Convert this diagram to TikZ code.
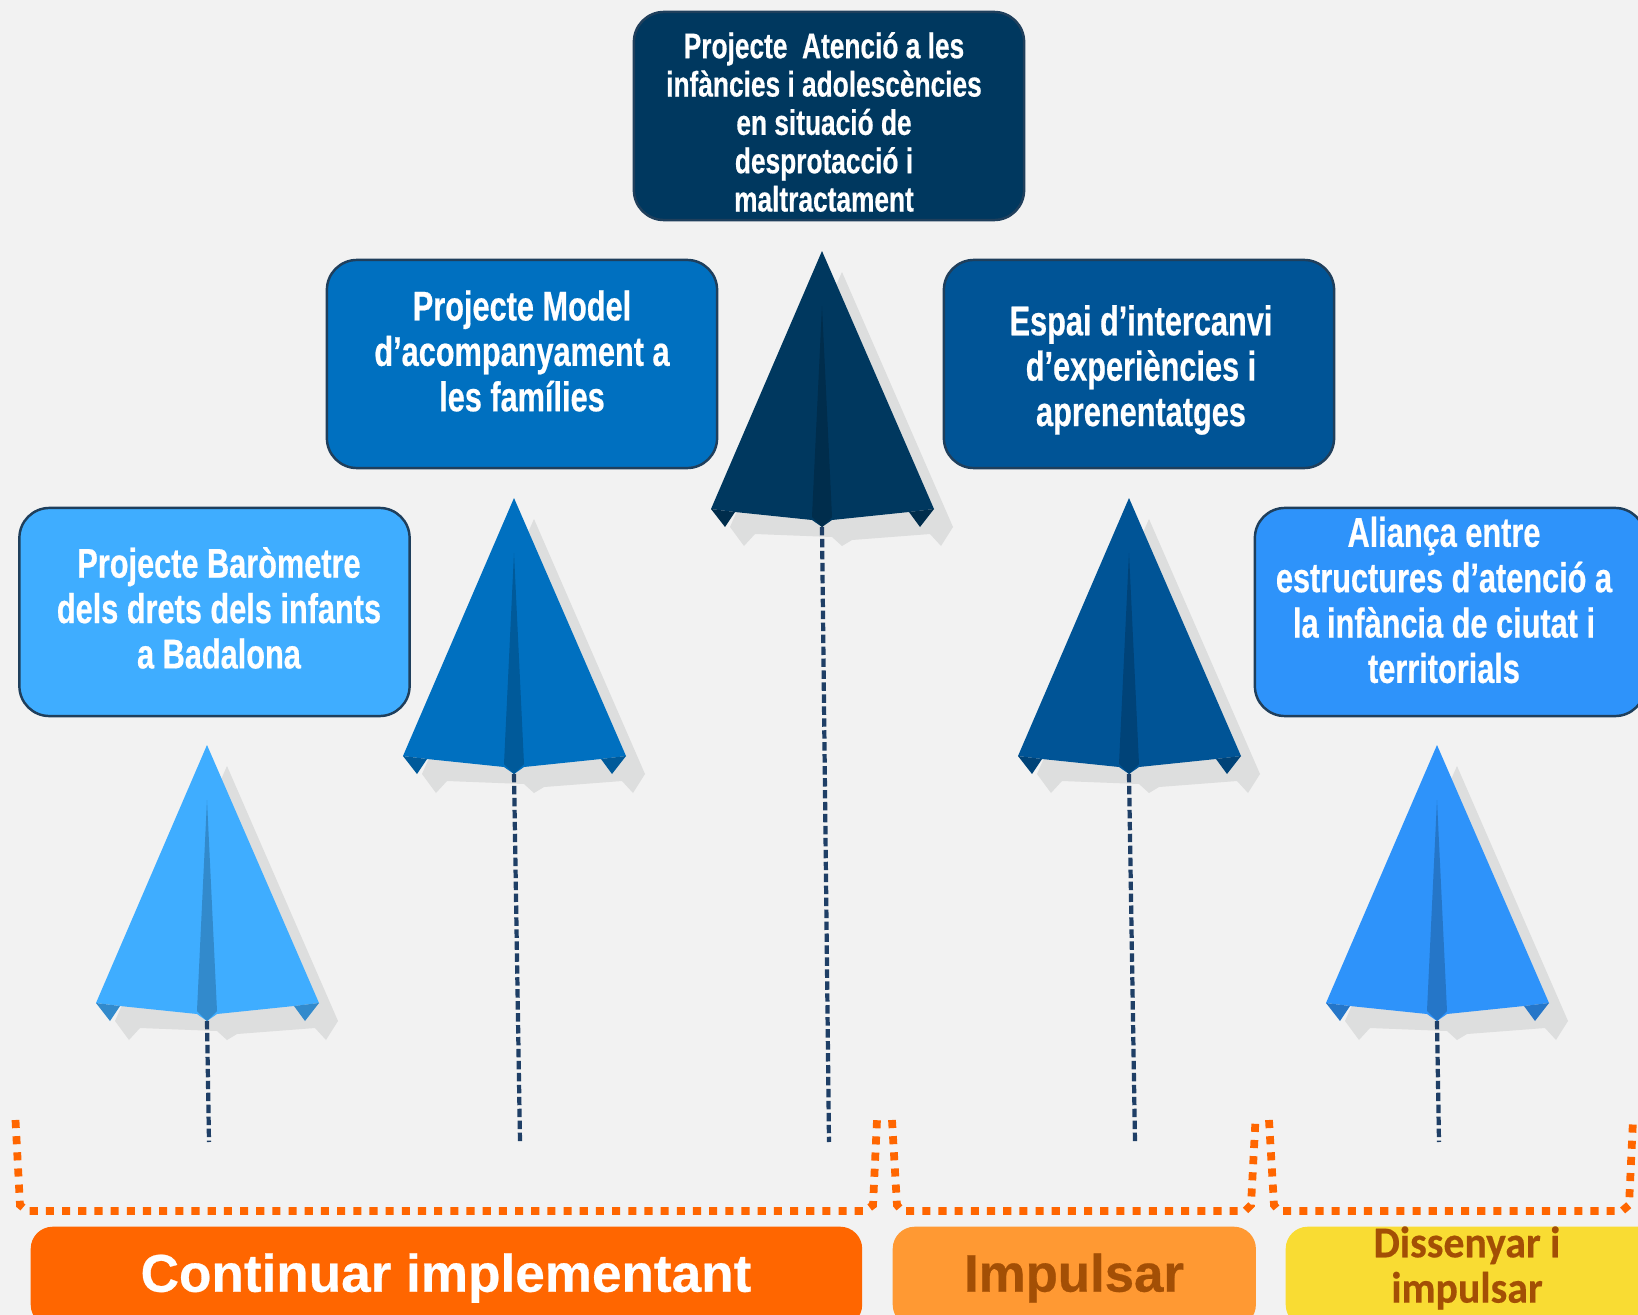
\documentclass[tikz,border=0pt]{standalone}
\usepackage{fontspec}
\setmainfont[FakeStretch=0.74,BoldFeatures={FakeBold=0.5}]{Liberation Sans}
\newfontfamily\wideface[BoldFeatures={FakeBold=0.5}]{Liberation Sans}
\newfontfamily\yellowface[FakeStretch=0.95,BoldFeatures={FakeBold=0.4}]{Carlito}
\usetikzlibrary{positioning, calc}
\definecolor{bgcol}{HTML}{F2F2F2}
\definecolor{navycol}{HTML}{00385F}
\definecolor{bluecol}{HTML}{0070C0}
\definecolor{deepcol}{HTML}{005496}
\definecolor{skycol}{HTML}{3FADFF}
\definecolor{brightcol}{HTML}{2E93FA}
\definecolor{shadecol}{HTML}{DDDEDE}
\definecolor{dashcol}{HTML}{1F3F66}
\definecolor{edgecol}{HTML}{1F3F5C}
\definecolor{orangecol}{HTML}{FF6600}
\definecolor{ambercol}{HTML}{FF9933}
\definecolor{yellowcol}{HTML}{F9DC33}
\definecolor{browncol}{HTML}{A34F05}
\tikzset{
  prbox/.style={draw=edgecol, line width=0.7pt, rounded corners=0.3cm, minimum width=3.9cm, minimum height=2.08cm},
  prtext/.style={align=center, text=white, font=\bfseries\fontsize{11.8}{12.9}\selectfont},
  stem/.style={dashcol, line width=1.2pt, dash pattern=on 2.4pt off 1pt},
  bracket/.style={orangecol, line width=2.2pt, dash pattern=on 2.3pt off 2.3pt},
  tag/.style={rounded corners=0.22cm, anchor=north west}
}
% plane: tip x, tip y, colour, name
\newcommand{\plane}[4]{
\begin{scope}[shift={(#1,#2)}]
    \fill[shadecol](20,21)--(131,276)--(119,295)--(108,283)--(30,289)--(20,295)--(10,286)--(-67,283)--(-78,295)--(-92,276)--cycle;
    \fill[#3](0,0)--(112,258)--(87,261)--(10,269)--(0,276)--(-10,269)--(-87,261)--(-111,258)--cycle;
    \fill[#3!80!black](0,55)--(10,266)--(0,276)--(-10,266)--cycle;
    \fill[#3!80!black](-111,258)--(-97,276)--(-87,261)--cycle;
    \fill[#3!80!black](112,258)--(98,276)--(87,261)--cycle;
    \coordinate (#4) at (0,276);
\end{scope}
}
\begin{document}
\begin{tikzpicture}[x=0.01cm,y=-0.01cm]
\useasboundingbox (0,0) rectangle (1638,1315);
\clip (0,0) rectangle (1638,1315);
\fill[bgcol] (0,0) rectangle (1638,1315);

\plane{207}{745}{skycol}{planea}
\plane{514}{498}{bluecol}{planeb}
\plane{822}{251}{navycol}{planec}
\plane{1129}{498}{deepcol}{planed}
\plane{1437}{745}{brightcol}{planee}

\coordinate (stema) at (209,1142);
\coordinate (stemb) at (520,1142);
\coordinate (stemc) at (829,1142);
\coordinate (stemd) at (1135,1142);
\coordinate (steme) at (1439,1142);
\draw[stem] (planea) -- (stema);
\draw[stem] (planeb) -- (stemb);
\draw[stem] (planec) -- (stemc);
\draw[stem] (planed) -- (stemd);
\draw[stem] (planee) -- (steme);

\node[prbox, fill=navycol] (boxc) at (829,116) {};
\node[prbox, fill=bluecol] (boxb) at (522,364) {};
\node[prbox, fill=deepcol] (boxd) at (1139,364) {};
\node[prbox, fill=skycol] (boxa) at (214.5,612) {};
\node[prbox, fill=brightcol] (boxe) at (1450,612) {};

\node[prtext, font=\bfseries\fontsize{10.1}{10.9}\selectfont] (textc) at (824,122) {Projecte\ \ Atenció a les\\infàncies i adolescències\\en situació de\\desprotacció i\\maltractament};
\node[prtext] (textb) at (522,351) {Projecte Model\\d’acompanyament a\\les famílies};
\node[prtext] (textd) at (1141,370) {Espai d’intercanvi\\d’experiències i\\aprenentatges};
\node[prtext] (texta) at (219,608) {Projecte Baròmetre\\dels drets dels infants\\a Badalona};
\node[prtext] (texte) at (1444,600) {Aliança entre\\estructures d’atenció a\\la infància de ciutat i\\territorials};

\draw[bracket] (15.5,1120) -- (20,1205) -- (27,1211) -- (865,1211) -- (873,1205) -- (877,1120);
\draw[bracket] (892,1120) -- (897,1205) -- (902,1211) -- (1245,1211) -- (1251,1205) -- (1255.5,1120);
\draw[bracket] (1269,1120) -- (1274,1205) -- (1279,1211) -- (1622,1211) -- (1629,1205) -- (1633,1120);

\node[tag, fill=orangecol, minimum width=8.31cm, minimum height=1cm] (taga) at (30,1226) {};
\node[tag, fill=ambercol, minimum width=3.63cm, minimum height=1cm] (tagb) at (892,1226) {};
\node[tag, fill=yellowcol, minimum width=4cm, minimum height=1cm] (tagc) at (1285,1226) {};
\node[text=white, font=\wideface\bfseries\fontsize{15.1}{15}\selectfont] (labela) at (446,1278) {Continuar implementant};
\node[text=browncol, font=\wideface\bfseries\fontsize{15}{15}\selectfont] (labelb) at (1074,1278) {Impulsar};
\node[text=browncol, align=center, font=\yellowface\bfseries\fontsize{12.5}{12.9}\selectfont] (labelc) at (1467,1268) {Dissenyar i\\impulsar};
\end{tikzpicture}
\end{document}
